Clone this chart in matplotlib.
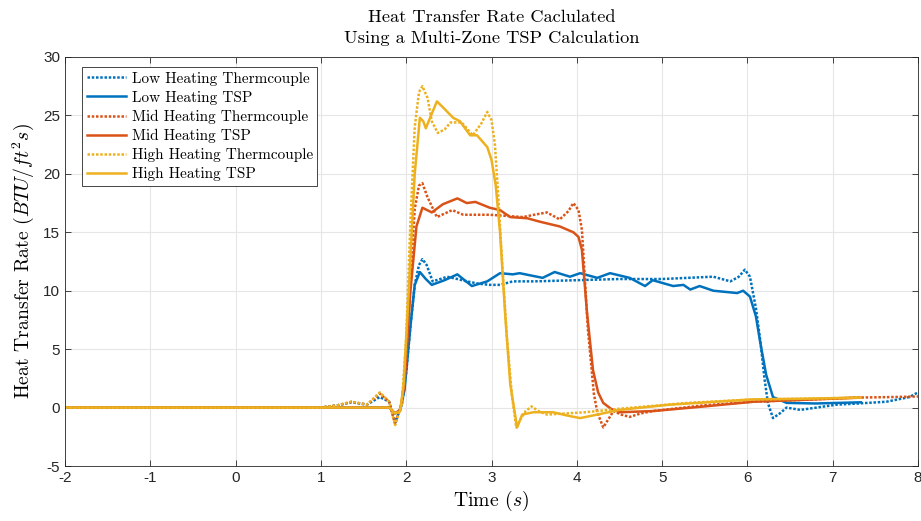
import matplotlib
matplotlib.use("Agg")
import matplotlib.pyplot as plt

plt.rcParams['mathtext.fontset'] = 'cm'
plt.rcParams['axes.unicode_minus'] = False
plt.rcParams['axes.formatter.use_mathtext'] = False

# data (time in s, heat rate in BTU/ft^2 s)
low_tc_t = [-2, 1.0, 1.2, 1.36, 1.54, 1.69, 1.8, 1.87, 1.95, 2.0, 2.05, 2.1, 2.15, 2.19, 2.24,
            2.31, 2.4, 2.48, 2.6, 2.71, 2.85, 2.98, 3.1, 3.25, 3.5, 4.0, 4.5, 5.0, 5.3, 5.6, 5.8,
            5.9, 5.97, 6.03, 6.1, 6.15, 6.2, 6.24, 6.3, 6.38, 6.46, 6.62, 7.05, 7.3, 7.63, 7.9, 8.0]
low_tc_v = [0, 0, 0.2, 0.45, 0.25, 0.9, 0.5, -1.3, 0.3, 3, 7, 10.5, 12.2, 12.7, 12.2,
            10.8, 11.0, 11.2, 11.0, 10.8, 10.6, 10.5, 10.5, 10.8, 10.8, 10.9, 11.0, 11.0, 11.1, 11.2, 10.8,
            11.2, 11.8, 11.2, 8.5, 5.8, 2.5, 0.4, -0.9, -0.5, 0.0, -0.2, 0.25, 0.35, 0.5, 0.9, 1.3]

low_tsp_t = [-2, 1.8, 1.87, 1.93, 1.98, 2.05, 2.1, 2.16, 2.23, 2.3, 2.45, 2.6, 2.77, 2.95, 3.1,
             3.25, 3.33, 3.6, 3.74, 3.92, 4.04, 4.24, 4.39, 4.62, 4.8, 4.89, 5.13, 5.25, 5.33, 5.44,
             5.6, 5.88, 5.95, 6.03, 6.1, 6.15, 6.22, 6.3, 6.46, 6.8, 7.33]
low_tsp_v = [0, 0, -0.5, -0.2, 1.5, 7, 10.5, 11.6, 11.0, 10.5, 10.9, 11.4, 10.4, 10.8, 11.5,
             11.4, 11.5, 11.1, 11.6, 11.2, 11.5, 11.1, 11.5, 11.1, 10.4, 10.9, 10.4, 10.5, 10.1, 10.4,
             10.0, 9.8, 10.0, 9.5, 7.8, 5.6, 2.8, 0.9, 0.4, 0.35, 0.45]

mid_tc_t = [-2, 1.0, 1.2, 1.36, 1.54, 1.69, 1.8, 1.87, 1.95, 2.0, 2.05, 2.1, 2.15, 2.19, 2.25,
            2.36, 2.45, 2.54, 2.67, 2.98, 3.37, 3.5, 3.65, 3.8, 3.9, 3.96, 4.02, 4.06, 4.13, 4.2,
            4.24, 4.31, 4.37, 4.43, 4.52, 4.62, 4.75, 4.89, 5.5, 6.07, 6.6, 7.24, 7.7, 8.0]
mid_tc_v = [0, 0, 0.2, 0.5, 0.25, 1.2, 0.5, -1.4, 0.4, 4, 11, 17, 19.0, 19.2, 18.0,
            16.3, 16.6, 16.9, 16.5, 16.5, 16.3, 16.5, 16.7, 16.1, 16.8, 17.5, 16.9, 15.2, 6.7, 1.2,
            -0.4, -1.7, -1.0, -0.3, -0.6, -0.8, -0.5, -0.3, 0.2, 0.5, 0.65, 0.85, 0.9, 0.95]

mid_tsp_t = [-2, 1.8, 1.87, 1.93, 1.98, 2.05, 2.12, 2.19, 2.3, 2.43, 2.6, 2.71, 2.81, 2.98, 3.1,
             3.22, 3.42, 3.57, 3.8, 3.96, 4.02, 4.06, 4.12, 4.19, 4.25, 4.31, 4.4, 4.5, 4.89, 5.5,
             6.07, 6.6, 7.33]
mid_tsp_v = [0, 0, -0.5, -0.2, 2, 10, 15.5, 17.1, 16.7, 17.4, 17.9, 17.5, 17.6, 17.1, 16.9,
             16.3, 16.2, 15.9, 15.5, 15.0, 14.6, 13.5, 8.1, 3.2, 1.3, 0.4, -0.1, -0.4, -0.3, 0.1,
             0.5, 0.65, 0.85]

high_tc_t = [-2, 1.0, 1.2, 1.36, 1.54, 1.69, 1.8, 1.87, 1.95, 2.0, 2.05, 2.1, 2.15, 2.19, 2.25,
             2.3, 2.37, 2.45, 2.52, 2.65, 2.78, 2.88, 2.95, 3.0, 3.04, 3.08, 3.12, 3.18, 3.24, 3.29,
             3.34, 3.4, 3.47, 3.55, 3.65, 4.1, 4.5, 5.3, 6.07, 6.6, 7.33]
high_tc_v = [0, 0, 0.2, 0.5, 0.25, 1.3, 0.5, -1.5, 0.4, 6, 16, 24, 27.0, 27.5, 26.5,
             24.5, 23.5, 23.8, 24.4, 24.4, 23.3, 24.3, 25.3, 24.6, 22.5, 18, 13, 6, 1, -1.7,
             -1.0, -0.3, 0.1, -0.3, -0.6, -0.4, -0.1, 0.4, 0.7, 0.75, 0.85]

high_tsp_t = [-2, 1.8, 1.87, 1.93, 1.97, 2.03, 2.1, 2.16, 2.2, 2.23, 2.28, 2.36, 2.43, 2.55, 2.63,
              2.75, 2.83, 2.95, 3.0, 3.05, 3.1, 3.16, 3.22, 3.3, 3.36, 3.49, 3.72, 3.9, 4.04, 4.24,
              4.5, 5.09, 6.07, 6.6, 7.33]
high_tsp_v = [0, 0, -0.5, -0.3, 2, 10, 20, 24.8, 24.5, 23.9, 24.8, 26.2, 25.7, 24.8, 24.5,
              23.3, 23.3, 22.3, 21.2, 19.0, 15.0, 8, 2, -1.7, -0.6, -0.4, -0.4, -0.7, -0.9, -0.6,
              -0.2, 0.25, 0.7, 0.75, 0.85]

labels = ['Low Heating Thermcouple', 'Low Heating TSP', 'Mid Heating Thermcouple',
          'Mid Heating TSP', 'High Heating Thermcouple', 'High Heating TSP']
x_ticks = list(range(-2, 9))
y_ticks = list(range(-5, 31, 5))

blue = '#0072BD'
red = '#D95319'
yellow = '#EDB120'

fig = plt.figure(figsize=(9.21, 5.21), dpi=100)
ax = fig.add_axes([65 / 921, 1 - 466 / 521, 853 / 921, 409 / 521])

lw = 1.8
dots = (1.0, 0.7)
series = [
    (low_tc_t, low_tc_v, blue, True),
    (low_tsp_t, low_tsp_v, blue, False),
    (mid_tc_t, mid_tc_v, red, True),
    (mid_tsp_t, mid_tsp_v, red, False),
    (high_tc_t, high_tc_v, yellow, True),
    (high_tsp_t, high_tsp_v, yellow, False),
]
for (t, v, c, dotted), lab in zip(series, labels):
    if dotted:
        ax.plot(t, v, color=c, lw=lw, dashes=dots, label=lab)
    else:
        ax.plot(t, v, color=c, lw=lw, label=lab)

ax.set_xlim(-2, 8)
ax.set_ylim(-5, 30)
ax.set_xticks(x_ticks)
ax.set_yticks(y_ticks)
ax.set_xticklabels([str(x) for x in x_ticks], fontfamily='Liberation Sans', fontsize=11)
ax.set_yticklabels([str(y) for y in y_ticks], fontfamily='Liberation Sans', fontsize=11)
ax.grid(True, color='#e6e6e6', lw=0.8)
ax.set_axisbelow(True)
ax.tick_params(direction='in', top=True, right=True, length=4, color='#262626',
               labelcolor='#262626', width=0.6)
for s in ax.spines.values():
    s.set_color('#262626')
    s.set_linewidth(0.6)

ax.set_title('Heat Transfer Rate Caclulated\nUsing a Multi-Zone TSP Calculation',
             fontfamily='cmr10', fontsize=13.2, pad=10, linespacing=1.45)
ax.set_xlabel('Time $(s)$', fontfamily='cmr10', fontsize=14.2, labelpad=3)
ax.set_ylabel('Heat Transfer Rate $(BTU/ft^2s)$', fontfamily='cmr10', fontsize=14.2, labelpad=5)

leg = ax.legend(loc='upper left', bbox_to_anchor=(17 / 853, 1 - 10 / 409), borderaxespad=0,
                prop={'family': 'cmr10', 'size': 11}, fancybox=False, framealpha=1,
                edgecolor='#262626', handlelength=2.6, handletextpad=0.35,
                labelspacing=0.33, borderpad=0.3)
leg.get_frame().set_linewidth(0.6)

fig.savefig('out.png', dpi=100)
